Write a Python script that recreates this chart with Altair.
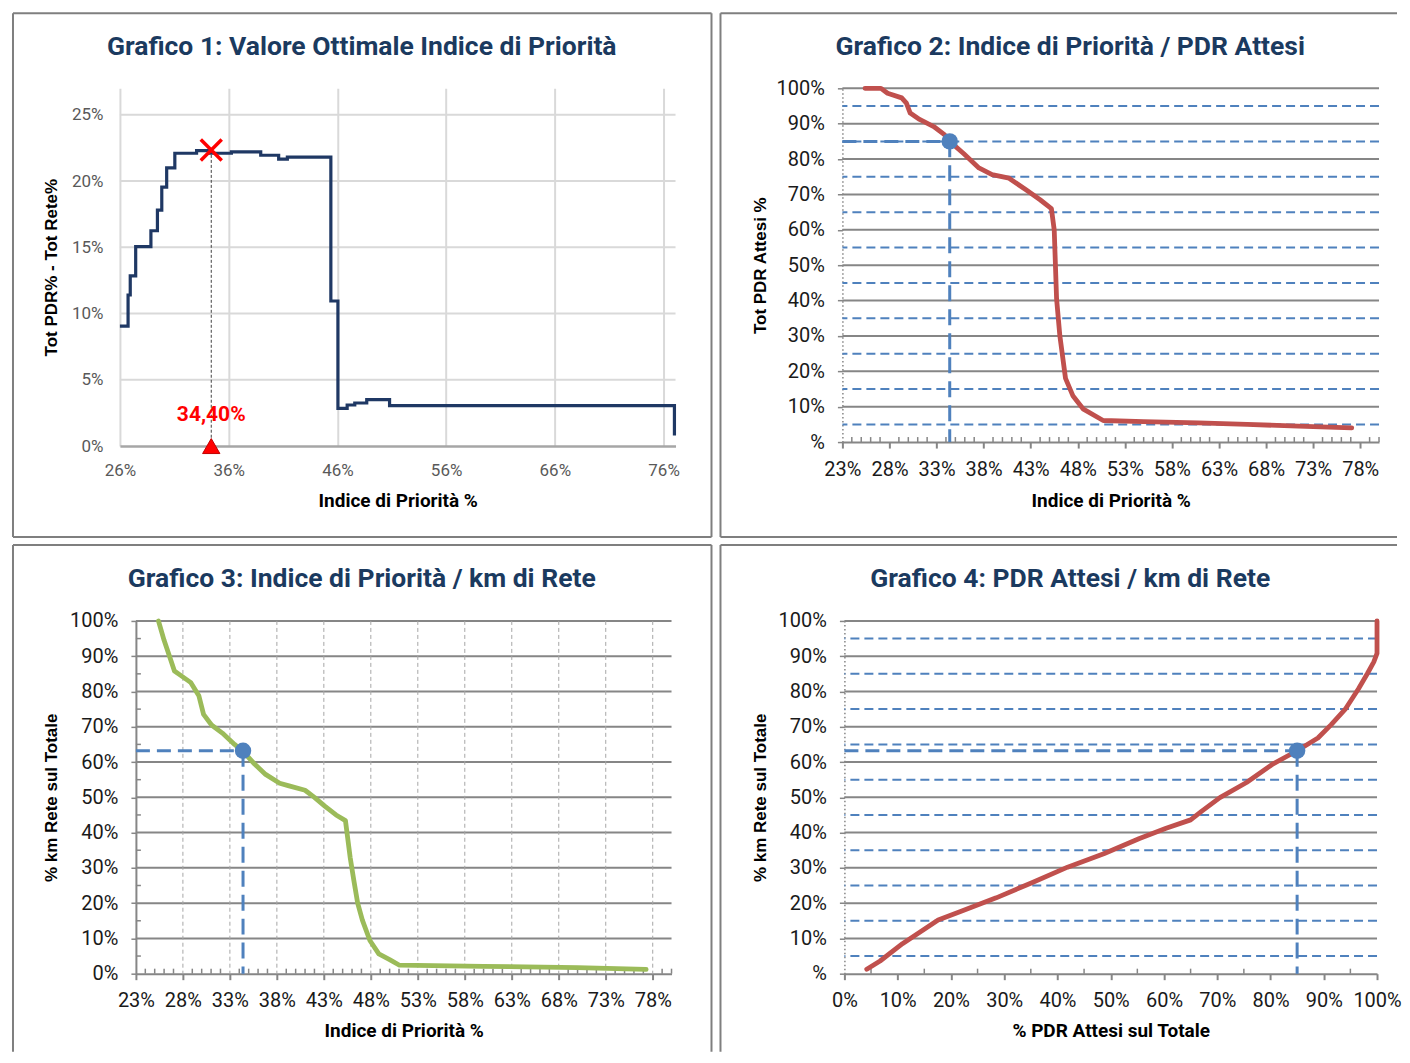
import altair as alt
import pandas as pd

# ---------------- texts ----------------
TITLE_1 = "Grafico 1: Valore Ottimale Indice di Priorità"
TITLE_2 = "Grafico 2: Indice di Priorità / PDR Attesi"
TITLE_3 = "Grafico 3: Indice di Priorità / km di Rete"
TITLE_4 = "Grafico 4: PDR Attesi / km di Rete"
X_TITLE_IDX = "Indice di Priorità %"
X_TITLE_PDR = "% PDR Attesi sul Totale"
Y_TITLE_1 = "Tot PDR% - Tot Rete%"
Y_TITLE_2 = "Tot PDR Attesi %"
Y_TITLE_KM = "% km Rete sul Totale"

# ---------------- data (percent units) ----------------
# Grafico 1: step line (Indice di Priorità %, Tot PDR% - Tot Rete%)
g1_x = [26.0, 26.75, 26.95, 27.45, 28.85, 29.45, 29.85, 30.3, 31.05, 33.05, 34.25,
        36.25, 38.95, 40.6, 41.4, 45.4, 46.05, 46.9, 47.6, 48.7, 50.8, 77.0]
g1_y = [9.05, 11.4, 12.85, 15.05, 16.25, 17.8, 19.55, 21.0, 22.1, 22.3, 22.1,
        22.2, 21.95, 21.65, 21.8, 10.95, 2.85, 3.1, 3.25, 3.5, 3.05, 0.8]
opt_x = 34.4
opt_y = 22.35
opt_label = "34,40%"
opt_label_y = 2.35

# Grafico 2: Indice di Priorità % -> Tot PDR Attesi %
g2_x = [25.4, 27.1, 27.8, 29.3, 29.8, 30.2, 31.2, 32.7, 33.8, 34.4, 35.9, 37.5, 38.9,
        40.7, 42.5, 44.0, 45.2, 45.5, 45.75, 46.1, 46.7, 47.5, 48.6, 50.7, 55.0, 60.8,
        66.0, 71.4, 77.1]
g2_y = [100.0, 100.0, 98.6, 97.3, 95.8, 93.0, 91.2, 89.2, 87.0, 85.0, 81.5, 77.5, 75.6,
        74.6, 71.3, 68.5, 66.0, 60.0, 40.5, 30.0, 18.0, 13.0, 9.3, 6.1, 5.8, 5.4,
        5.0, 4.5, 4.0]

# Grafico 3: Indice di Priorità % -> % km Rete sul Totale
g3_x = [25.4, 26.0, 26.7, 27.1, 27.8, 28.85, 29.7, 30.2, 31.05, 32.2, 33.5, 34.4, 35.6,
        36.8, 38.3, 39.2, 41.0, 42.0, 43.1, 44.3, 45.3, 45.8, 46.2, 46.6, 47.1, 47.9,
        48.85, 50.0, 51.05, 60.0, 70.0, 77.3]
g3_y = [100.0, 94.5, 89.0, 85.8, 84.5, 82.5, 78.8, 73.5, 70.5, 68.2, 65.0, 63.0, 59.5,
        56.5, 54.0, 53.3, 52.0, 50.0, 47.5, 45.0, 43.4, 33.0, 26.3, 20.0, 15.2, 9.4,
        5.6, 4.0, 2.4, 2.1, 1.7, 1.2]

# Grafico 4: % PDR Attesi sul Totale -> % km Rete sul Totale
g4_x = [4.2, 6.7, 10.9, 17.6, 21.8, 28.5, 35.2, 41.9, 48.7, 55.4, 60.4, 65.0, 67.1,
        70.5, 75.5, 80.5, 85.0, 88.9, 91.4, 94.0, 96.5, 98.2, 99.4, 100.0, 100.0]
g4_y = [1.25, 3.6, 8.5, 15.2, 17.6, 21.5, 25.8, 30.2, 34.0, 38.3, 41.2, 43.6, 46.1,
        49.9, 54.2, 59.5, 63.2, 66.8, 70.6, 74.9, 80.7, 85.1, 88.4, 90.8, 100.0]

# highlighted point (Indice 34,40%)
sel_idx = 34.4
sel_pdr = 85.0
sel_km = 63.2

# axis tick values
g1_xticks = [26, 36, 46, 56, 66, 76]
g1_yticks = [0, 5, 10, 15, 20, 25]
idx_ticks = [23, 28, 33, 38, 43, 48, 53, 58, 63, 68, 73, 78]
idx_minor = [v for v in range(24, 81) if (v - 23) % 5 != 0]
pct_ticks = [0, 10, 20, 30, 40, 50, 60, 70, 80, 90, 100]
pct_grid = [10, 20, 30, 40, 50, 60, 70, 80, 90, 100]
pct_half = [5, 15, 25, 35, 45, 55, 65, 75, 85, 95]


def pct(vals):
    return [v / 100 for v in vals]


# ---------------- style ----------------
NARROW = "Roboto"
ARIAL = "Liberation Sans"
TITLE_COLOR = "#1B3A5F"
FRAME = "#7F7F7F"
AX = "#868686"
BLUE = "#4F81BD"
RED = "#C0504D"
GREEN = "#9BBB59"
NAVY = "#1F3864"
LBL = "#1A1A1A"

one = pd.DataFrame({"k": [0]})


def hline(a, b, y):
    return alt.Chart(one).mark_rule(color=FRAME, strokeWidth=2).encode(
        x=alt.value(a), x2=alt.value(b), y=alt.value(y))


def vline(x, a, b):
    return alt.Chart(one).mark_rule(color=FRAME, strokeWidth=2).encode(
        x=alt.value(x), y=alt.value(a), y2=alt.value(b))


def title_text(cx, by, txt):
    return alt.Chart(one).mark_text(font=NARROW, fontSize=26.5, fontWeight="bold",
                                    color=TITLE_COLOR, align="center",
                                    baseline="alphabetic").encode(
        x=alt.value(cx), y=alt.value(by), text=alt.value(txt))


def x_axis(values, title, w, ty):
    return alt.Axis(values=values, format=".0%", grid=False, labelFlush=False,
                    labelOverlap=False, domainColor=AX, domainWidth=2,
                    ticks=True, tickColor=AX, tickWidth=2, tickSize=6,
                    labelPadding=11, labelFont=NARROW, labelFontSize=20,
                    labelColor=LBL, title=title, titleFont=NARROW, titleFontSize=19,
                    titleFontWeight="bold", titleColor="#000000", titleX=w / 2,
                    titleY=ty, titleBaseline="middle")


def y_axis(title, h, tx, dotted=True, zero_label="%"):
    return alt.Axis(values=pct(pct_ticks), format=".0%",
                    labelExpr="datum.value == 0 ? '" + zero_label + "' : datum.label",
                    grid=False, labelFlush=False, labelOverlap=False,
                    domainColor=AX, domainWidth=1.5 if dotted else 2,
                    domainDash=[1.5, 2.5] if dotted else [1, 0],
                    tickColor=AX, tickWidth=1.5, tickSize=5,
                    labelPadding=13, labelFont=NARROW, labelFontSize=20, labelColor=LBL,
                    title=title, titleFont=ARIAL, titleFontSize=17, titleFontWeight="bold",
                    titleColor="#000000", titleX=tx, titleY=h / 2, titleBaseline="middle")


# ================= Grafico 1 =================
# the group origin of this panel is aligned with Grafico 3, so the plot range
# starts 16 px to the left of the origin
SH1 = 16
W1, H1 = 540, 358
sx1 = alt.Scale(domain=[0.26, 0.771], range=[-SH1, W1], nice=False, zero=False)
sy1 = alt.Scale(domain=[0, 0.27], nice=False, zero=False)
ax1x = alt.Axis(values=pct(g1_xticks), format=".0%", grid=True, gridColor="#D9D9D9",
                gridWidth=2, labelFlush=False, labelOverlap=False, domainColor="#A6A6A6",
                domainWidth=2.5, ticks=False, tickSize=0, labelPadding=16,
                labelFont=NARROW, labelFontSize=17, labelColor="#595959",
                title=X_TITLE_IDX, titleFont=NARROW, titleFontSize=19,
                titleFontWeight="bold", titleColor="#000000", titleX=(W1 - SH1) / 2,
                titleY=54, titleBaseline="middle")
ax1y = alt.Axis(values=pct(g1_yticks), format=".0%", grid=False, domain=False,
                ticks=False, tickSize=0, labelPadding=17 + SH1,
                labelFont=NARROW, labelFontSize=17, labelColor="#595959",
                title=Y_TITLE_1, titleFont=ARIAL, titleFontSize=17, titleFontWeight="bold",
                titleColor="#000000", titleX=-68 - SH1, titleY=H1 / 2,
                titleBaseline="middle")

df1 = pd.DataFrame({"x": pct(g1_x), "y": pct(g1_y), "i": list(range(len(g1_x)))})
opt_df = pd.DataFrame({"x": [opt_x / 100], "y": [opt_y / 100], "y0": [0.0],
                       "ly": [opt_label_y / 100], "label": [opt_label]})
X1 = lambda f: alt.X(f, scale=sx1, axis=ax1x)
Y1 = lambda f: alt.Y(f, scale=sy1, axis=ax1y)

hgrid1 = alt.Chart(pd.DataFrame({"y": pct(g1_yticks[1:])})).mark_rule(
    color="#D9D9D9", strokeWidth=2).encode(
    y=Y1("y:Q"), x=alt.value(-SH1), x2=alt.value(W1))
line1 = alt.Chart(df1).mark_line(interpolate="step-after", color=NAVY,
                                 strokeWidth=3.2).encode(
    x=X1("x:Q"), y=Y1("y:Q"), order="i:Q")
leader1 = alt.Chart(opt_df).mark_rule(color="#404040", strokeWidth=1,
                                      strokeDash=[3, 2]).encode(
    x=X1("x:Q"), y=Y1("y:Q"), y2="y0:Q")
cross1 = alt.Chart(opt_df).mark_point(shape="M-1,-1L1,1M-1,1L1,-1", filled=False,
                                      color="#FF0000", strokeWidth=3.5, size=440,
                                      opacity=1).encode(x=X1("x:Q"), y=Y1("y:Q"))
tri1 = alt.Chart(opt_df).mark_point(shape="triangle-up", filled=True, color="#FF0000",
                                    size=300, opacity=1, stroke="#C00000",
                                    strokeWidth=1).encode(x=X1("x:Q"), y=Y1("y0:Q"))
lab1 = alt.Chart(opt_df).mark_text(font=NARROW, fontSize=21, fontWeight="bold",
                                   color="#FF0000", baseline="middle").encode(
    x=X1("x:Q"), y=Y1("ly:Q"), text="label:N")

p1 = alt.layer(
    hline(-123, 576, -75), hline(-123, 576, H1 + 91), vline(-123, -75, H1 + 91),
    vline(576, -75, H1 + 91), title_text(226, -33, TITLE_1),
    hgrid1, line1, leader1, cross1, tri1, lab1
).properties(width=W1, height=H1)


# ================= generic panel for Grafici 2-4 =================
def panel(W, H, xdom, x_minor, ax_x, ax_y, line_x, line_y, color, sel_x, sel_y,
          frame, title, title_x, title_y, blue_grid=True, vgrid=None, y_minor=False):
    sx = alt.Scale(domain=xdom, nice=False, zero=False)
    sy = alt.Scale(domain=[0, 1], nice=False, zero=False)
    XX = lambda f: alt.X(f, scale=sx, axis=ax_x)
    YY = lambda f: alt.Y(f, scale=sy, axis=ax_y)
    df = pd.DataFrame({"x": pct(line_x), "y": pct(line_y), "i": list(range(len(line_x)))})
    sel = pd.DataFrame({"x": [sel_x / 100], "y": [sel_y / 100], "x0": [xdom[0]], "y0": [0.0]})
    layers = list(frame) + [title_text(title_x, title_y, title)]
    layers.append(alt.Chart(pd.DataFrame({"y": pct(pct_grid)})).mark_rule(
        color=AX, strokeWidth=2).encode(y=YY("y:Q")))
    if blue_grid:
        layers.append(alt.Chart(pd.DataFrame({"y": pct(pct_half)})).mark_rule(
            color=BLUE, strokeWidth=2, strokeDash=[9, 5]).encode(y=YY("y:Q")))
    if vgrid is not None:
        layers.append(alt.Chart(pd.DataFrame({"x": pct(vgrid)})).mark_rule(
            color="#A6A6A6", strokeWidth=1, strokeDash=[4, 3]).encode(x=XX("x:Q")))
    layers.append(alt.Chart(pd.DataFrame({"x": pct(x_minor)})).mark_rule(
        color=AX, strokeWidth=1.5).encode(x=XX("x:Q"), y=alt.value(H), y2=alt.value(H - 5)))
    if y_minor:
        layers.append(alt.Chart(pd.DataFrame({"y": pct(pct_half)})).mark_rule(
            color=AX, strokeWidth=1.5).encode(y=YY("y:Q"), x=alt.value(0), x2=alt.value(5)))
    layers.append(alt.Chart(sel).mark_rule(color=BLUE, strokeWidth=3,
                                           strokeDash=[14, 7]).encode(
        x=XX("x0:Q"), x2="x:Q", y=YY("y:Q")))
    layers.append(alt.Chart(sel).mark_rule(color=BLUE, strokeWidth=3,
                                           strokeDash=[16, 8]).encode(
        x=XX("x:Q"), y=YY("y:Q"), y2="y0:Q"))
    layers.append(alt.Chart(df).mark_line(color=color, strokeWidth=4.8, strokeCap="round",
                                          strokeJoin="round").encode(
        x=XX("x:Q"), y=YY("y:Q"), order="i:Q"))
    layers.append(alt.Chart(sel).mark_circle(size=270, color=BLUE, opacity=1).encode(
        x=XX("x:Q"), y=YY("y:Q")))
    return alt.layer(*layers).properties(width=W, height=H)


# ================= Grafico 2 =================
W2, H2 = 537, 354
p2 = panel(W2, H2, [0.23, 0.80], idx_minor,
           x_axis(pct(idx_ticks), X_TITLE_IDX, W2, 58),
           y_axis(Y_TITLE_2, H2, -82),
           g2_x, g2_y, RED, sel_idx, sel_pdr,
           [hline(-122, 555, -75), hline(-122, 555, H2 + 95), vline(-122, -75, H2 + 95)],
           TITLE_2, 228, -33)

# ================= Grafico 3 =================
W3, H3 = 536, 353
p3 = panel(W3, H3, [0.23, 0.80], idx_minor,
           x_axis(pct(idx_ticks), X_TITLE_IDX, W3, 57),
           y_axis(Y_TITLE_KM, H3, -84, dotted=False, zero_label="0%"),
           g3_x, g3_y, GREEN, sel_idx, sel_km,
           [hline(-123, 576, -76), vline(-123, -76, 431), vline(576, -76, 431)],
           TITLE_3, 226, -34, blue_grid=False, vgrid=idx_ticks[1:], y_minor=True)

# ================= Grafico 4 =================
W4, H4 = 533, 353
p4 = panel(W4, H4, [0.0, 1.0], pct_half,
           x_axis(pct(pct_ticks), X_TITLE_PDR, W4, 57),
           y_axis(Y_TITLE_KM, H4, -84),
           g4_x, g4_y, RED, sel_pdr, sel_km,
           [hline(-124, 553, -76), vline(-124, -76, 431)],
           TITLE_4, 226, -34)

chart = alt.concat(
    p1, p2, p3, p4, columns=2, align="none", bounds="full",
    spacing={"row": 6, "column": 7},
).properties(
    padding={"left": 4, "top": 4, "right": 0, "bottom": 0}
).configure_view(strokeWidth=0)

chart.save("out.html", embed_options={"renderer": "svg", "actions": False})
